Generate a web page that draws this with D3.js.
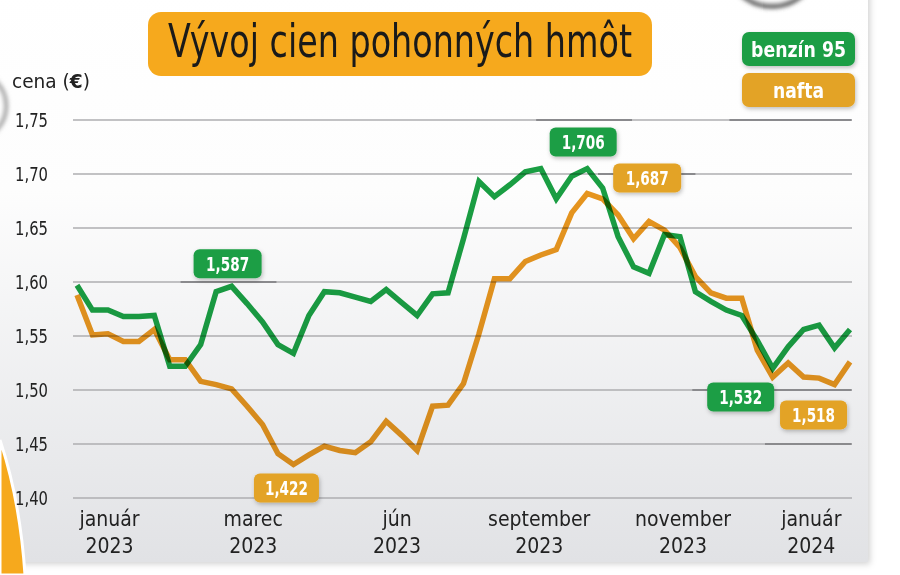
<!DOCTYPE html>
<html><head><meta charset="utf-8">
<script src="https://cdn.jsdelivr.net/npm/d3@7"></script>
<style>
html,body{margin:0;padding:0;background:#fff;}
svg{display:block;}
text{font-family:"Liberation Sans Narrow","DejaVu Sans Condensed","Roboto Condensed","Roboto",sans-serif;}
</style></head>
<body>
<svg id="chart" width="900" height="575"></svg>
<script>
// ---------- data ----------
const title = "Vývoj cien pohonných hmôt";
const seriesNames = ["benzín 95", "nafta"];
const benzin = [1.597,1.574,1.574,1.568,1.568,1.569,1.522,1.522,1.542,1.591,
                1.596,1.580,1.563,1.542,1.534,1.569,1.591,1.590,1.586,1.582,
                1.593,1.581,1.569,1.589,1.590,1.640,1.693,1.679,1.690,1.702,
                1.705,1.677,1.698,1.705,1.687,1.642,1.614,1.608,1.644,1.642,
                1.591,1.582,1.574,1.569,1.546,1.520,1.540,1.556,1.560,1.539,1.556];
const nafta  = [1.588,1.551,1.552,1.545,1.545,1.556,1.528,1.528,1.508,1.505,
                1.501,1.485,1.468,1.441,1.431,1.440,1.448,1.444,1.442,1.452,
                1.471,1.458,1.444,1.485,1.486,1.506,1.552,1.603,1.603,1.619,
                1.625,1.630,1.664,1.682,1.677,1.662,1.640,1.656,1.648,1.632,
                1.605,1.590,1.585,1.585,1.537,1.512,1.525,1.512,1.511,1.505,1.526];
const yTicks = [1.40,1.45,1.50,1.55,1.60,1.65,1.70,1.75];
const xTickLabels = [["január","2023"],["marec","2023"],["jún","2023"],
                     ["september","2023"],["november","2023"],["január","2024"]];
const xTickAt = [2.1, 11.4, 20.7, 29.9, 39.2, 47.5];   // week index of each label
const annotations = [
  {series:0, i:10, text:"1,587"},
  {series:0, i:33, text:"1,706"},
  {series:1, i:33, text:"1,687"},
  {series:1, i:14, text:"1,422"},
  {series:0, i:45, text:"1,532"},
  {series:1, i:49, text:"1,518"}
];
// darker leader segments on gridlines (value, from week index, to week index)
const leaders = [[1.60,6.7,12.9],[1.75,29.7,35.9],[1.75,42.2,50.1],[1.70,33.7,40.0],[1.50,39.8,50.1],[1.45,44.5,50.1]];

// ---------- styles ----------
const GREEN = "#1a9f43", ORANGE = "#e8961f";
const LABEL_GREEN = "#1e9e45", LABEL_ORANGE = "#e3a325", TITLE_BG = "#f6a91d";
const annoOffset = [[-4,-37],[-4,-41],[60,-30],[-7,9],[-32,14],[-21,16]];
const annoW = [68,67,68,65,67,67];

const svg = d3.select("#chart");
const defs = svg.append("defs");
const grad = defs.append("linearGradient").attr("id","bg").attr("x1",0).attr("y1",0).attr("x2",0).attr("y2",1);
grad.append("stop").attr("offset","0%").attr("stop-color","#ffffff");
grad.append("stop").attr("offset","35%").attr("stop-color","#fdfdfd");
grad.append("stop").attr("offset","100%").attr("stop-color","#e1e2e5");
const sh = defs.append("filter").attr("id","shadow").attr("x","-20%").attr("y","-20%").attr("width","140%").attr("height","160%");
sh.append("feDropShadow").attr("dx",1).attr("dy",2).attr("stdDeviation",2).attr("flood-color","#000").attr("flood-opacity",0.25);
const ps = defs.append("filter").attr("id","pshadow").attr("x","-5%").attr("y","-5%").attr("width","110%").attr("height","110%");
ps.append("feDropShadow").attr("dx",2).attr("dy",2).attr("stdDeviation",3).attr("flood-color","#000").attr("flood-opacity",0.18);
const blur = defs.append("filter").attr("id","blur");
blur.append("feGaussianBlur").attr("stdDeviation",2);

// panel
svg.append("rect").attr("x",-10).attr("y",-10).attr("width",878).attr("height",572)
  .attr("fill","url(#bg)").attr("filter","url(#pshadow)");
// page decorations
svg.append("circle").attr("cx",-28).attr("cy",106).attr("r",34).attr("fill","#fff")
  .attr("stroke","#9a9a9a").attr("stroke-width",4).attr("filter","url(#blur)");
svg.append("circle").attr("cx",772).attr("cy",-40).attr("r",46).attr("fill","#fff")
  .attr("stroke","#555").attr("stroke-width",5).attr("filter","url(#blur)");
svg.append("path").attr("d","M0,440 Q20,500 25,575 L0,575 Z")
  .attr("fill",TITLE_BG).attr("stroke","#fff").attr("stroke-width",3);

// scales
const x = d3.scaleLinear().domain([0, benzin.length-1]).range([77, 850]);
const y = d3.scaleLinear().domain([1.40, 1.75]).range([498, 120]);

// gridlines
const grid = svg.append("g");
grid.selectAll("line").data(yTicks).join("line")
  .attr("x1",73).attr("x2",852).attr("y1",d=>y(d)).attr("y2",d=>y(d))
  .attr("stroke","#aeaeb0").attr("stroke-width",1.6);
grid.selectAll("line.lead").data(leaders).join("line").attr("class","lead")
  .attr("x1",d=>x(d[1])).attr("x2",d=>x(d[2])).attr("y1",d=>y(d[0])).attr("y2",d=>y(d[0]))
  .attr("stroke","#8a8a8d").attr("stroke-width",2);

// y axis labels
svg.append("g").selectAll("text").data(yTicks).join("text")
  .attr("x",48).attr("y",d=>y(d)+7).attr("text-anchor","end")
  .attr("font-size",20).attr("fill","#222")
  .attr("textLength",33).attr("lengthAdjust","spacingAndGlyphs")
  .text(d=>d3.format(".2f")(d).replace(".",","));
const cena = svg.append("text").attr("x",12).attr("y",88).attr("font-size",20).attr("fill","#222")
  .attr("textLength",78).attr("lengthAdjust","spacingAndGlyphs");
cena.append("tspan").text("cena (");
cena.append("tspan").attr("font-weight","bold").text("€");
cena.append("tspan").text(")");

// x axis labels
const xl = svg.append("g").selectAll("text").data(xTickLabels).join("text")
  .attr("text-anchor","middle").attr("font-size",21).attr("fill","#222");
xl.append("tspan").attr("x",(d,i)=>x(xTickAt[i])).attr("y",526).text(d=>d[0]);
xl.append("tspan").attr("x",(d,i)=>x(xTickAt[i])).attr("y",553).text(d=>d[1]);

// lines
const line = d3.line().x((d,i)=>x(i)).y(d=>y(d));
svg.append("path").datum(nafta).attr("d",line).attr("fill","none")
  .attr("stroke",ORANGE).attr("stroke-width",5.5).attr("stroke-linejoin","miter")
  .style("mix-blend-mode","multiply");
svg.append("path").datum(benzin).attr("d",line).attr("fill","none")
  .attr("stroke",GREEN).attr("stroke-width",5.5).attr("stroke-linejoin","miter")
  .style("mix-blend-mode","multiply");

// annotations
const allSeries = [benzin, nafta];
const ag = svg.append("g").selectAll("g").data(annotations).join("g")
  .attr("transform",(d,k)=>{
    const px = x(d.i) + annoOffset[k][0], py = y(allSeries[d.series][d.i]) + annoOffset[k][1];
    return `translate(${px},${py})`;
  });
ag.append("rect").attr("x",(d,k)=>-annoW[k]/2).attr("y",0).attr("width",(d,k)=>annoW[k]).attr("height",29)
  .attr("rx",6).attr("fill",d=>d.series===0?LABEL_GREEN:LABEL_ORANGE).attr("filter","url(#shadow)");
ag.append("text").attr("x",0).attr("y",21.5).attr("text-anchor","middle")
  .attr("font-size",19).attr("font-weight","bold").attr("fill","#fff")
  .attr("textLength",43).attr("lengthAdjust","spacingAndGlyphs").text(d=>d.text);

// title
svg.append("rect").attr("x",148).attr("y",12).attr("width",504).attr("height",64).attr("rx",13).attr("fill",TITLE_BG);
svg.append("text").attr("x",168).attr("y",57).attr("font-size",47).attr("fill","#1a1a1a")
  .attr("textLength",464).attr("lengthAdjust","spacingAndGlyphs").text(title);

// legend
const legColors = [LABEL_GREEN, LABEL_ORANGE];
const legW = [95, 51];
const lg = svg.append("g").selectAll("g").data(seriesNames).join("g")
  .attr("transform",(d,i)=>`translate(742,${32 + i*41})`);
lg.append("rect").attr("width",113).attr("height",34).attr("rx",7).attr("fill",(d,i)=>legColors[i]).attr("filter","url(#shadow)");
lg.append("text").attr("x",56.5).attr("y",25).attr("text-anchor","middle").attr("font-size",22)
  .attr("font-weight","bold").attr("fill","#fff")
  .attr("textLength",(d,i)=>legW[i]).attr("lengthAdjust","spacingAndGlyphs").text(d=>d);
</script>
</body></html>
